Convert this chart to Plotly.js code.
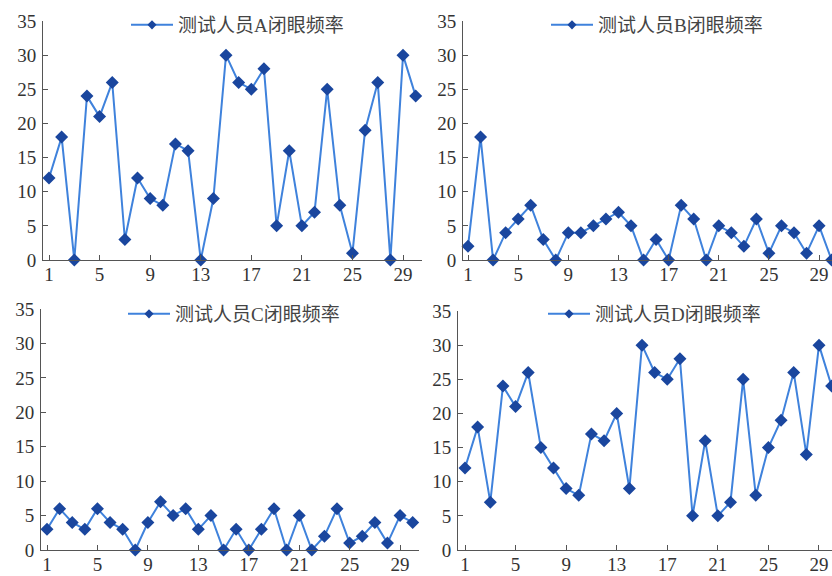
<!DOCTYPE html>
<html>
<head>
<meta charset="utf-8">
<script src="https://cdn.plot.ly/plotly-3.0.1.min.js"></script>
<style>html,body{margin:0;padding:0;background:#fff;}#chart{width:832px;height:576px;}</style>
</head>
<body>
<div id="chart"></div>
<script>
const trials = Array.from({length: 30}, (_, i) => i + 1);
const tickVals = [1, 5, 9, 13, 17, 21, 25, 29];
const yTicks = [0, 5, 10, 15, 20, 25, 30, 35];
const seriesNames = ['测试人员A闭眼频率', '测试人员B闭眼频率', '测试人员C闭眼频率', '测试人员D闭眼频率'];
const valuesA = [12, 18, 0, 24, 21, 26, 3, 12, 9, 8, 17, 16, 0, 9, 30, 26, 25, 28, 5, 16, 5, 7, 25, 8, 1, 19, 26, 0, 30, 24];
const valuesB = [2, 18, 0, 4, 6, 8, 3, 0, 4, 4, 5, 6, 7, 5, 0, 3, 0, 8, 6, 0, 5, 4, 2, 6, 1, 5, 4, 1, 5, 0];
const valuesC = [3, 6, 4, 3, 6, 4, 3, 0, 4, 7, 5, 6, 3, 5, 0, 3, 0, 3, 6, 0, 5, 0, 2, 6, 1, 2, 4, 1, 5, 4];
const valuesD = [12, 18, 7, 24, 21, 26, 15, 12, 9, 8, 17, 16, 20, 9, 30, 26, 25, 28, 5, 16, 5, 7, 25, 8, 15, 19, 26, 14, 30, 24];
const allValues = [valuesA, valuesB, valuesC, valuesD];

const W = 832, H = 576;
const lineColor = '#3f82dc';
const markerColor = '#1a469e';
const fontFam = '"Liberation Serif", "Times New Roman", "Noto Sans CJK SC", serif';

// panel geometry in pixels: [xLeft, xRight], [yTop, yBottom], x ranges, legend anchor
const panels = [
  {px: [43, 422], py: [21, 260], xr: [0.525, 30.5], leg: [126, 25]},
  {px: [463, 832], py: [21, 260], xr: [0.6, 30.03], leg: [546, 25]},
  {px: [41, 419], py: [309, 550], xr: [0.524, 30.5], leg: [123, 314]},
  {px: [458, 832], py: [311, 550], xr: [0.446, 30.03], leg: [543, 314]}
];

const data = [];
const layout = {
  width: W, height: H,
  margin: {l: 0, r: 0, t: 0, b: 0},
  paper_bgcolor: '#fff', plot_bgcolor: '#fff',
  font: {family: fontFam, color: '#333', size: 19},
  showlegend: true
};

panels.forEach((p, i) => {
  const n = i === 0 ? '' : String(i + 1);
  const xa = 'x' + n, ya = 'y' + n;
  const lg = 'legend' + n;
  data.push({
    x: trials, y: allValues[i], xaxis: xa, yaxis: ya,
    type: 'scatter', mode: 'lines+markers',
    line: {color: lineColor, width: 2},
    marker: {symbol: 'diamond', size: 10, color: markerColor},
    cliponaxis: false, showlegend: false
  });
  data.push({
    x: [null], y: [null], xaxis: xa, yaxis: ya,
    type: 'scatter', mode: 'lines+markers', name: seriesNames[i],
    line: {color: lineColor, width: 2},
    marker: {symbol: 'diamond', size: 7, color: markerColor},
    legend: lg, showlegend: true
  });
  layout['xaxis' + n] = {
    domain: [p.px[0] / W, p.px[1] / W], range: p.xr, anchor: ya,
    tickvals: tickVals, ticks: 'inside', ticklen: 5, tickcolor: '#555',
    showline: true, linecolor: '#555', linewidth: 1,
    showgrid: false, zeroline: false, ticklabelstandoff: -3,
    tickfont: {family: fontFam, size: 19, color: '#333'}, fixedrange: true
  };
  layout['yaxis' + n] = {
    domain: [1 - p.py[1] / H, 1 - p.py[0] / H], range: [0, 35], anchor: xa,
    tickvals: yTicks, ticks: 'inside', ticklen: 5, tickcolor: '#555',
    showline: true, linecolor: '#555', linewidth: 1,
    showgrid: false, zeroline: false, ticklabelstandoff: 2,
    tickfont: {family: fontFam, size: 19, color: '#333'}, fixedrange: true
  };
  layout[lg] = {
    x: p.leg[0] / W, y: 1 - p.leg[1] / H, xanchor: 'left', yanchor: 'middle',
    bgcolor: 'rgba(255,255,255,0)', borderwidth: 0, itemwidth: 42,
    font: {family: fontFam, size: 19, color: '#444'}
  };
});

Plotly.newPlot('chart', data, layout, {displayModeBar: false, staticPlot: true});
</script>
</body>
</html>
